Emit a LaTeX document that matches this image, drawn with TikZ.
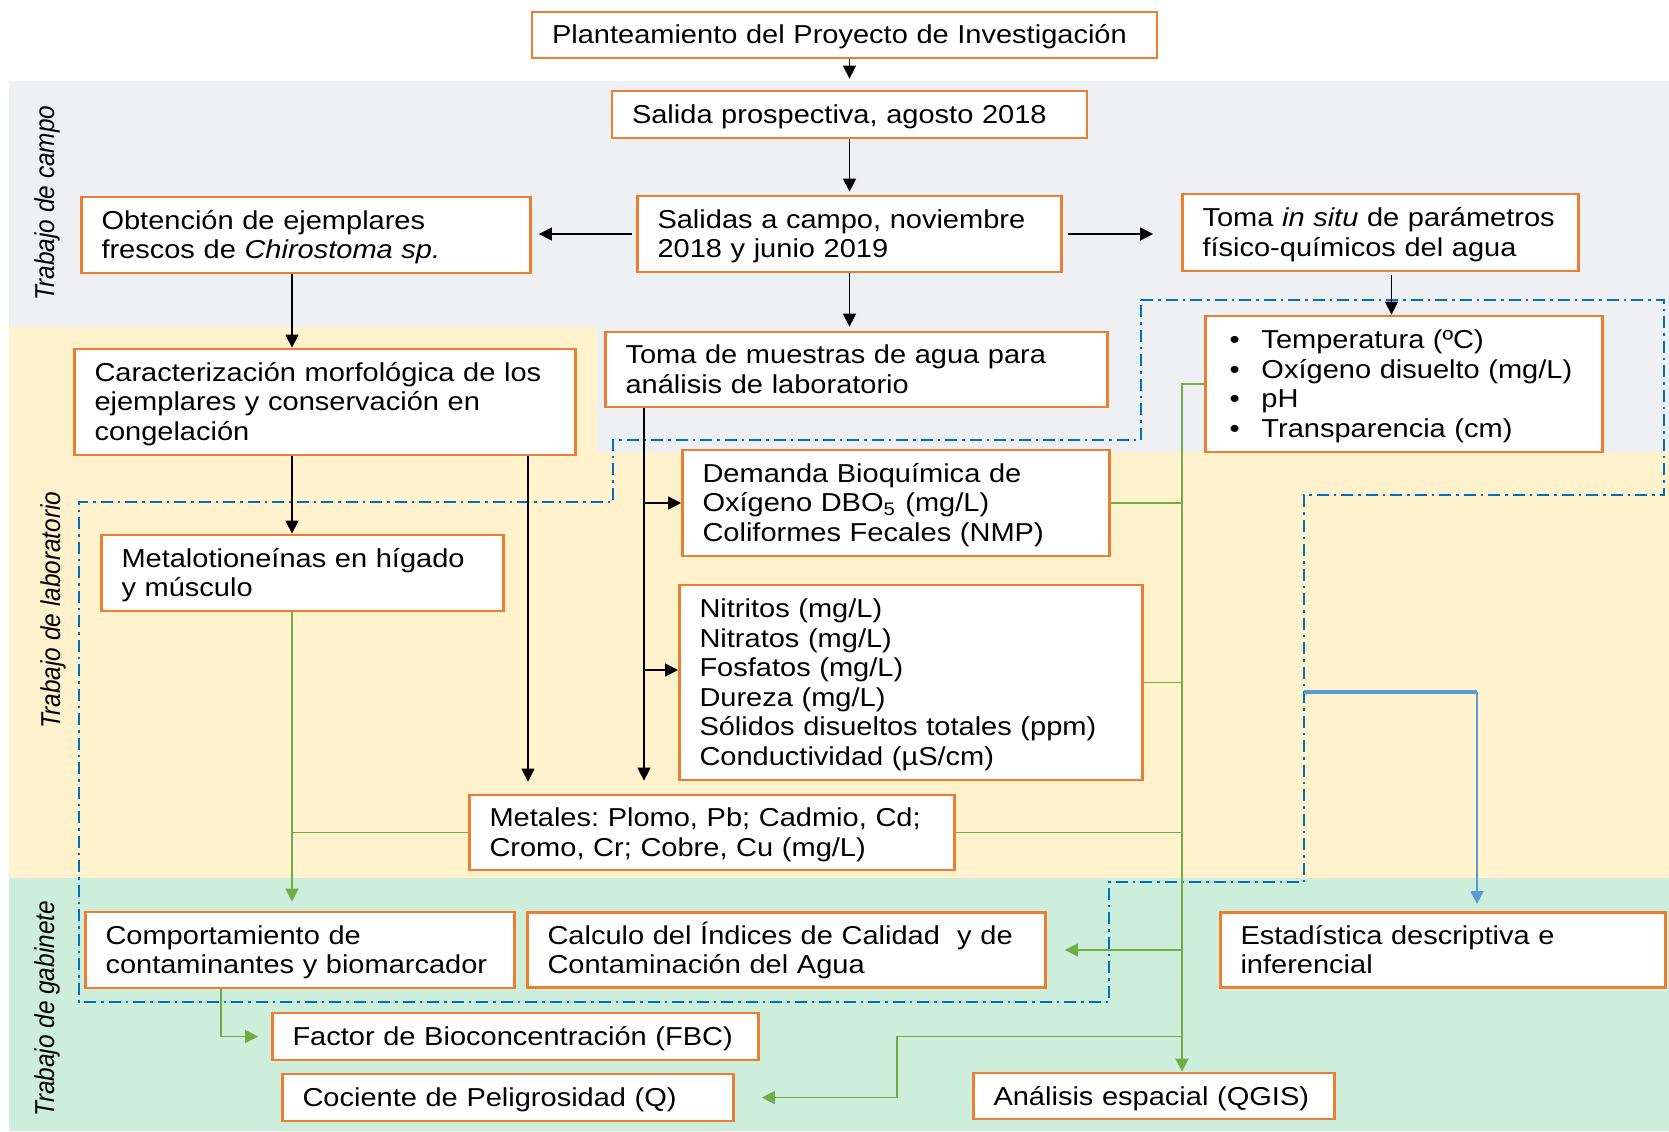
\documentclass[tikz,border=0pt]{standalone}
\usepackage{fontspec}
\setmainfont{Liberation Sans}[FakeStretch=1.12]
\newfontfamily\lanefont{Liberation Sans}[FakeStretch=0.893]
\usepackage{tikz}
\usetikzlibrary{arrows.meta}
\usetikzlibrary{positioning,calc}
\frenchspacing

\definecolor{boxline}{HTML}{ED7D31}
\definecolor{campobg}{HTML}{EFF0F4}
\definecolor{labbg}{HTML}{FFF2CC}
\definecolor{gabbg}{HTML}{CCEEDA}
\definecolor{linkgreen}{HTML}{70AD47}
\definecolor{linkblue}{HTML}{5B9BD5}
\definecolor{groupblue}{HTML}{0070C0}

\newcommand{\pitem}{\makebox[0.36cm][l]{\hspace{0.04cm}\textbullet}}
\newcommand{\wordstrut}{\rule[-0.212em]{0pt}{1.117em}}

\tikzset{
    state/.style={
           rectangle,
           draw=boxline, line width=0.28mm,
           fill=white,
           inner xsep=0.2cm,
           inner ysep=0pt,
           align=left,
           font=\fontsize{7.37}{8.42}\selectfont,
           execute at begin node=\wordstrut,
           execute at end node=\wordstrut,
           },
    lane/.style={
           rotate=90,
           font=\lanefont\itshape\fontsize{7.77}{8}\selectfont,
           },
    link/.style={
           draw=black, line width=0.4pt,
           },
    glink/.style={
           draw=linkgreen, line width=0.5pt,
           },
    group/.style={
           draw=groupblue, line width=0.55pt,
           dash pattern=on 1.2mm off 0.5mm on 0.25mm off 0.5mm,
           },
}

\begin{document}
\begin{tikzpicture}
[
>={Triangle[length=1.3mm,width=1.3mm]}
]

 % lanes
 \useasboundingbox (0,0) rectangle (16.69,-11.31);
 \fill[campobg] (0.09,-0.81) rectangle (16.69,-3.27);
 \fill[campobg] (5.97,-3.27) rectangle (16.69,-4.52);
 \fill[labbg] (0.09,-3.27) rectangle (5.97,-8.78);
 \fill[labbg] (5.97,-4.52) rectangle (16.69,-8.78);
 \fill[gabbg] (0.09,-8.78) rectangle (16.69,-11.31);

 \node[lane] (CAMPOLANE) at (0.475,-2.03) {Trabajo de campo};
 \node[lane] (LABLANE) at (0.53,-6.10) {Trabajo de laboratorio};
 \node[lane] (GABLANE) at (0.47,-10.085) {Trabajo de gabinete};

 % dash-dot group round the water parameters
 \draw[group] (11.41,-3.00) -- (16.64,-3.00) -- (16.64,-4.95) -- (13.04,-4.95)
  -- (13.04,-8.82) -- (11.09,-8.82) -- (11.09,-10.02) -- (0.79,-10.02)
  -- (0.79,-5.02) -- (6.13,-5.02) -- (6.13,-4.40) -- (11.41,-4.40) -- cycle;

 % PLANTEAMIENTO
 \node[state,
 text width=5.85cm,
 minimum height=0.46cm] (PLAN) at (8.445,-0.35)
 {%
 Planteamiento del Proyecto de Investigación
 };

 % SALIDA PROSPECTIVA
 \node[state,
 below of=PLAN,
 node distance=0.795cm,
 xshift=0.05cm,
 text width=4.35cm,
 minimum height=0.47cm] (SALIDA)
 {%
 Salida prospectiva, agosto 2018
 };

 % SALIDAS A CAMPO
 \node[state,
 below of=SALIDA,
 node distance=1.195cm,
 text width=3.84cm,
 minimum height=0.76cm] (CAMPO)
 {%
 Salidas a campo, noviembre\\
 2018 y junio 2019
 };

 \node[state,
 left of=CAMPO,
 node distance=5.435cm,
 yshift=-0.01cm,
 text width=4.09cm,
 minimum height=0.76cm] (OBT)
 {%
 Obtención de ejemplares\\
 frescos de \textit{Chirostoma sp.}
 };

 \node[state,
 right of=CAMPO,
 node distance=5.31cm,
 yshift=0.015cm,
 text width=3.56cm,
 minimum height=0.77cm] (INSITU)
 {%
 Toma \textit{in situ} de parámetros\\
 físico-químicos del agua
 };

 % LABORATORIO
 \node[state,
 below of=OBT,
 node distance=1.67cm,
 xshift=0.19cm,
 text width=4.61cm,
 minimum height=1.06cm] (CARACT)
 {%
 Caracterización morfológica de los\\
 ejemplares y conservación en\\
 congelación
 };

 \node[state,
 below of=CAMPO,
 node distance=1.355cm,
 xshift=0.07cm,
 text width=4.62cm,
 minimum height=0.75cm] (MUESTRA)
 {%
 Toma de muestras de agua para\\
 análisis de laboratorio
 };

 \node[state,
 below of=INSITU,
 node distance=1.515cm,
 xshift=0.235cm,
 text width=3.57cm,
 minimum height=1.36cm] (PARAM)
 {%
 \pitem Temperatura (ºC)\\
 \pitem Oxígeno disuelto (mg/L)\\
 \pitem pH\\
 \pitem Transparencia (cm)
 };

 \node[state,
 below of=MUESTRA,
 node distance=1.335cm,
 xshift=0.395cm,
 text width=3.87cm,
 minimum height=1.06cm] (DBO)
 {%
 Demanda Bioquímica de\\
 Oxígeno DBO\textsubscript{5} (mg/L)\\
 Coliformes Fecales (NMP)
 };

 \node[state,
 below of=CARACT,
 node distance=1.71cm,
 xshift=-0.225cm,
 text width=3.62cm,
 minimum height=0.76cm] (METALO)
 {%
 Metalotioneínas en hígado\\
 y músculo
 };

 \node[state,
 below of=DBO,
 node distance=1.795cm,
 xshift=0.15cm,
 text width=4.23cm,
 minimum height=1.95cm] (NITRI)
 {%
 Nitritos (mg/L)\\
 Nitratos (mg/L)\\
 Fosfatos (mg/L)\\
 Dureza (mg/L)\\
 Sólidos disueltos totales (ppm)\\
 Conductividad (µS/cm)
 };

 \node[state,
 below of=NITRI,
 node distance=1.5cm,
 xshift=-1.99cm,
 text width=4.45cm,
 minimum height=0.75cm] (METAL)
 {%
 Metales: Plomo, Pb; Cadmio, Cd;\\
 Cromo, Cr; Cobre, Cu (mg/L)
 };

 % GABINETE
 \node[state,
 below of=METALO,
 node distance=3.77cm,
 xshift=-0.025cm,
 text width=3.89cm,
 minimum height=0.76cm] (COMP)
 {%
 Comportamiento de\\
 contaminantes y biomarcador
 };

 \node[state,
 right of=COMP,
 node distance=4.865cm,
 text width=4.78cm,
 minimum height=0.75cm] (CALC)
 {%
 Calculo del Índices de Calidad\ \ y de\\
 Contaminación del Agua
 };

 \node[state,
 right of=CALC,
 node distance=6.565cm,
 text width=4.05cm,
 minimum height=0.75cm] (ESTAD)
 {%
 Estadística descriptiva e\\
 inferencial
 };

 \node[state,
 below of=COMP,
 node distance=0.865cm,
 xshift=2.155cm,
 text width=4.46cm,
 minimum height=0.47cm] (FBC)
 {%
 Factor de Bioconcentración (FBC)
 };

 \node[state,
 below of=FBC,
 node distance=0.61cm,
 xshift=-0.075cm,
 text width=4.11cm,
 minimum height=0.47cm] (COC)
 {%
 Cociente de Peligrosidad (Q)
 };

 \node[state,
 right of=COC,
 node distance=6.46cm,
 yshift=0.015cm,
 text width=3.21cm,
 minimum height=0.46cm] (QGIS)
 {%
 Análisis espacial (QGIS)
 };

 % columns of the vertical links
 \coordinate (xobt) at (2.92,0);
 \coordinate (xmet) at (5.28,0);
 \coordinate (xmue) at (6.44,0);
 \coordinate (xpar) at (13.915,0);
 \coordinate (xgreen) at (11.82,0);
 \coordinate (xcomp) at (2.21,0);
 \coordinate (xturn) at (8.97,0);
 \coordinate (xblue) at (14.77,0);
 \coordinate (nitin) at ($(NITRI.west)+(0,0.125)$);
 \coordinate (BLUEIN) at (13.04,-6.92);

 % black links
 \draw[link,->,shorten >=1.1mm] (PLAN.south -| SALIDA.north) -- (SALIDA.north);
 \draw[link,->,shorten >=0.3mm] (SALIDA.south) -- (SALIDA.south |- CAMPO.north);
 \draw[link,->,shorten <=0.4mm,shorten >=0.7mm] (CAMPO.west) -- (CAMPO.west -| OBT.east);
 \draw[link,->,shorten <=0.5mm,shorten >=2.8mm] (CAMPO.east) -- (CAMPO.east -| INSITU.west);
 \draw[link,->,shorten >=0.4mm] (CAMPO.south) -- (CAMPO.south |- MUESTRA.north);
 \draw[link,->,shorten <=0.3mm] (INSITU.south -| xpar) -- (PARAM.north -| xpar);
 \draw[link,->] (OBT.south -| xobt) -- (CARACT.north -| xobt);
 \draw[link,->] (CARACT.south -| xobt) -- (METALO.north -| xobt);
 \draw[link,->,shorten >=1.2mm] (CARACT.south -| xmet) -- (METAL.north -| xmet);
 \draw[link,->,shorten >=1.3mm] (MUESTRA.south -| xmue) -- (METAL.north -| xmue);
 \draw[link,->] (DBO.west -| xmue) -- (DBO.west);
 \draw[link,->] (nitin -| xmue) -- (nitin);

 % green links
 \draw[glink,->,shorten >=0.9mm] (METALO.south -| xobt) -- (COMP.north -| xobt);
 \draw[glink] (METAL.west) -- (METAL.west -| xobt);
 \draw[glink,->] (PARAM.west) -- (PARAM.west -| xgreen) -- (QGIS.north -| xgreen);
 \draw[glink] (DBO.east) -- (DBO.east -| xgreen);
 \draw[glink] (NITRI.east) -- (NITRI.east -| xgreen);
 \draw[glink] (METAL.east) -- (METAL.east -| xgreen);
 \draw[glink,->,shorten >=1.8mm] (CALC.east -| xgreen) -- (CALC.east);
 \draw[glink,->,shorten >=2.7mm] (FBC.east -| xgreen) -- (FBC.east -| xturn)
  -- (COC.east -| xturn) -- (COC.east);
 \draw[glink,->,shorten >=1.3mm] (COMP.south -| xcomp) -- (FBC.west -| xcomp) -- (FBC.west);

 % blue link
 \draw[draw=linkblue,line width=0.9pt] (BLUEIN) -- (BLUEIN -| xblue);
 \draw[draw=linkblue,line width=0.45pt,->,shorten >=0.7mm] (BLUEIN -| xblue) -- (ESTAD.north -| xblue);

\end{tikzpicture}
\end{document}
